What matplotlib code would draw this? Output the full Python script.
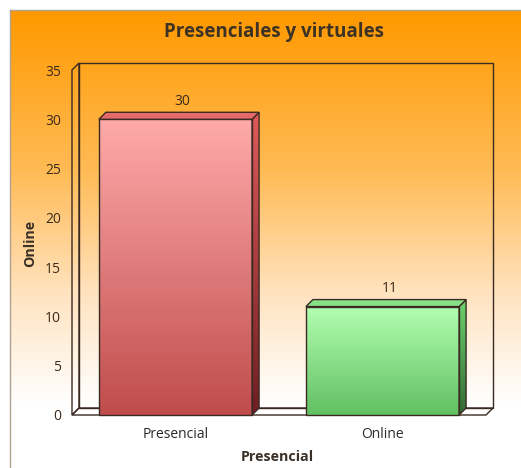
import numpy as np
import matplotlib.pyplot as plt
from matplotlib.patches import Polygon, Rectangle
from matplotlib.colors import LinearSegmentedColormap

plt.rcParams['font.family'] = ['Open Sans', 'DejaVu Sans']

categories = ['Presencial', 'Online']
values = [30, 11]
y_ticks = [0, 5, 10, 15, 20, 25, 30, 35]
title = 'Presenciales y virtuales'
x_title = 'Presencial'
y_title = 'Online'

# face colours per bar: front (top, bottom), side (top, bottom), top face
front_cols = [('#ffaaaa', '#c04c4c'), ('#b2ffb2', '#62c062')]
side_cols = [('#e05a5a', '#6e1e22'), ('#6ed46e', '#2f6a34')]
top_cols = ['#e56a6a', '#86e086']
edge = '#3b2a22'

W, H = 521, 468
fig = plt.figure(figsize=(W / 100, H / 100), dpi=100)
fig.patch.set_facecolor('white')

# orange panel behind everything
bg = fig.add_axes([10 / W, 0, 1 - 10 / W, 1 - 10 / H], zorder=0)
grad = np.linspace(0, 1, 256).reshape(-1, 1)
bg_cmap = LinearSegmentedColormap.from_list(
    'bg', [(0, '#ff9900'), (0.35, '#ffbb55'), (0.62, '#ffe3c0'), (0.86, '#ffffff'), (1, '#ffffff')])
bg.imshow(grad, cmap=bg_cmap, aspect='auto', extent=(0, 1, 0, 1), origin='upper')
bg.set_xlim(0, 1)
bg.set_ylim(0, 1)
bg.set_xticks([])
bg.set_yticks([])
for s in ['right', 'bottom']:
    bg.spines[s].set_visible(False)
for s in ['left', 'top']:
    bg.spines[s].set_color('#b0a090')
    bg.spines[s].set_linewidth(1.0)

# main plot area = front plane of the 3D box
x0, x1 = 72, 486
y0, y1 = 415, 70
ax = fig.add_axes([x0 / W, 1 - y0 / H, (x1 - x0) / W, (y0 - y1) / H], zorder=1)
ax.patch.set_alpha(0)
ax.set_xlim(0, 2)
ax.set_ylim(0, 35)
for s in ax.spines.values():
    s.set_visible(False)

dx = 7 / (x1 - x0) * 2
dy = 7 / (y0 - y1) * 35

# floor, left wall and back wall outlines
floor = Polygon([(0, 0), (2, 0), (2 + dx, dy), (dx, dy)], closed=True,
                facecolor='white', edgecolor=edge, lw=1.0, clip_on=False, zorder=1)
ax.add_patch(floor)
ax.add_patch(Polygon([(0, 0), (0, 35), (dx, 35 + dy), (dx, dy)], closed=True,
                     facecolor='none', edgecolor=edge, lw=1.0, clip_on=False, zorder=1))
ax.add_patch(Rectangle((dx, dy), 2, 35, facecolor='none', edgecolor=edge,
                       lw=1.0, clip_on=False, zorder=1))

width = 0.74
vgrad = np.linspace(0, 1, 256).reshape(-1, 1)
for i, (cat, v) in enumerate(zip(categories, values)):
    cx = i + 0.5
    left, right = cx - width / 2, cx + width / 2
    # front face
    cm = LinearSegmentedColormap.from_list('f%d' % i, [front_cols[i][0], front_cols[i][1]])
    ax.imshow(vgrad, cmap=cm, aspect='auto', extent=(left, right, 0, v),
              origin='upper', zorder=3, clip_on=False)
    ax.add_patch(Rectangle((left, 0), width, v, facecolor='none', edgecolor=edge,
                           lw=1.0, zorder=4, clip_on=False))
    # side face
    side = Polygon([(right, 0), (right + dx, dy), (right + dx, v + dy), (right, v)],
                   closed=True, facecolor='none', edgecolor=edge, lw=1.0, zorder=4, clip_on=False)
    ax.add_patch(side)
    cm = LinearSegmentedColormap.from_list('s%d' % i, [side_cols[i][0], side_cols[i][1]])
    im = ax.imshow(vgrad, cmap=cm, aspect='auto', extent=(right, right + dx, 0, v + dy),
                   origin='upper', zorder=3, clip_on=True)
    im.set_clip_path(side)
    # top face
    ax.add_patch(Polygon([(left, v), (right, v), (right + dx, v + dy), (left + dx, v + dy)],
                         closed=True, facecolor=top_cols[i], edgecolor=edge, lw=1.0,
                         zorder=4, clip_on=False))
    ax.text(cx + dx, v + dy + 0.35, str(v), ha='center', va='bottom',
            fontsize=10, color='#3a2a1a', zorder=5)

ax.set_yticks(y_ticks)
ax.set_yticklabels([str(t) for t in y_ticks], fontsize=10, color='#3a2a1a')
ax.set_xticks([0.5, 1.5])
ax.set_xticklabels(categories, fontsize=10, color='#2a2a2a')
ax.tick_params(axis='y', length=0, pad=8)
ax.tick_params(axis='x', length=0, pad=9)

fig.text(277 / W, 1 - 457 / H, x_title, ha='center', va='center', fontsize=10.3,
         fontweight='bold', color='#3a3028')
fig.text(30 / W, 1 - 243 / H, y_title, ha='center', va='center', rotation=90,
         fontsize=10.3, fontweight='bold', color='#3a3028')
fig.text(274 / W, 1 - 32 / H, title, ha='center', va='center', fontsize=13.5,
         fontweight='bold', color='#3d3324')

fig.savefig('out.png', dpi=100)
